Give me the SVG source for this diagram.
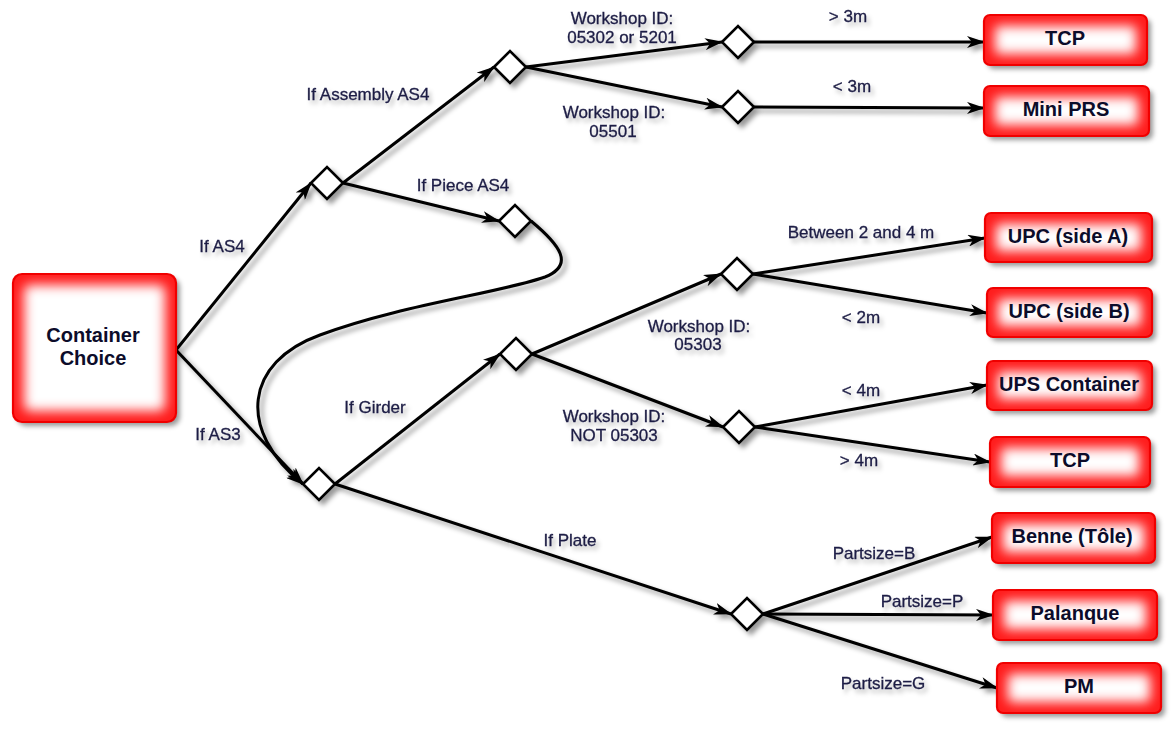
<svg xmlns="http://www.w3.org/2000/svg" width="1176" height="734" viewBox="0 0 1176 734">
<defs>
<style>
.box{fill:#ff1e1e;stroke:none}
.inner{fill:#ffffff;filter:url(#soft)}
.edge{fill:none;stroke:#f00000;stroke-width:2.2}
.nt{font-family:"Liberation Sans",Arial,sans-serif;font-weight:bold;font-size:20px;fill:#0c0c2a;text-anchor:middle}
.lb{font-family:"Liberation Sans",Arial,sans-serif;font-size:17px;fill:#1c1c44;stroke:#1c1c44;stroke-width:0.3;text-anchor:middle}
.dia{fill:#ffffff;stroke:#000;stroke-width:2.6}
.con{fill:none;stroke:#000;stroke-width:3;marker-end:url(#arr)}
</style>
<filter id="soft" x="-30%" y="-80%" width="160%" height="260%"><feGaussianBlur stdDeviation="6"/></filter>
<filter id="shd" x="-10%" y="-10%" width="130%" height="130%"><feDropShadow dx="4" dy="4" stdDeviation="2.5" flood-color="#000" flood-opacity="0.4"/></filter>
<filter id="tshd" x="-10%" y="-30%" width="130%" height="180%"><feDropShadow dx="3" dy="4" stdDeviation="2" flood-color="#000" flood-opacity="0.25"/></filter>
<marker id="arr" markerUnits="userSpaceOnUse" viewBox="0 0 18 12" markerWidth="18" markerHeight="12" refX="17" refY="6" orient="auto">
<path d="M0,0 L18,6 L0,12 L5,6 z" fill="#000"/>
</marker>
</defs>
<rect width="1176" height="734" fill="#ffffff"/>

<g id="connectors" filter="url(#shd)">
<path class="con" d="M176,350 L311,183"/>
<path class="con" d="M176,350 L303,484"/>
<path class="con" d="M343,183 L494,67"/>
<path class="con" d="M343,183 L499,221"/>
<path class="con" d="M531,221 C560,245 575,265 545,277 C500,293 400,305 320,335 C245,362 236,430 303,484"/>
<path class="con" d="M526,67 L722,42"/>
<path class="con" d="M526,67 L722,107"/>
<path class="con" d="M754,42 L984,42"/>
<path class="con" d="M754,107 L984,108"/>
<path class="con" d="M335,484 L500,354"/>
<path class="con" d="M335,484 L731,614"/>
<path class="con" d="M532,354 L721,274"/>
<path class="con" d="M532,354 L723,427"/>
<path class="con" d="M753,274 L985,238"/>
<path class="con" d="M753,274 L987,313"/>
<path class="con" d="M755,427 L987,385"/>
<path class="con" d="M755,427 L990,462"/>
<path class="con" d="M763,614 L992,537"/>
<path class="con" d="M763,614 L993,615"/>
<path class="con" d="M763,614 L997,688"/>
</g>

<g id="labels" filter="url(#tshd)">
<text class="lb" x="222" y="252">If AS4</text>
<text class="lb" x="218" y="440">If AS3</text>
<text class="lb" x="368" y="100">If Assembly AS4</text>
<text class="lb" x="463" y="191">If Piece AS4</text>
<text class="lb" x="622" y="24">Workshop ID:</text>
<text class="lb" x="622" y="43">05302 or 5201</text>
<text class="lb" x="614" y="118">Workshop ID:</text>
<text class="lb" x="613" y="137">05501</text>
<text class="lb" x="848" y="22">&gt; 3m</text>
<text class="lb" x="852" y="92">&lt; 3m</text>
<text class="lb" x="375" y="413">If Girder</text>
<text class="lb" x="570" y="546">If Plate</text>
<text class="lb" x="699" y="332">Workshop ID:</text>
<text class="lb" x="698" y="350">05303</text>
<text class="lb" x="614" y="422">Workshop ID:</text>
<text class="lb" x="614" y="441">NOT 05303</text>
<text class="lb" x="861" y="238">Between 2 and 4 m</text>
<text class="lb" x="861" y="323">&lt; 2m</text>
<text class="lb" x="861" y="396">&lt; 4m</text>
<text class="lb" x="859" y="466">&gt; 4m</text>
<text class="lb" x="874" y="559">Partsize=B</text>
<text class="lb" x="922" y="607">Partsize=P</text>
<text class="lb" x="883" y="689">Partsize=G</text>
</g>

<g id="decisions" filter="url(#shd)">
<polygon id="d1" class="dia" points="311,183 327,167 343,183 327,199"/>
<polygon id="d2" class="dia" points="494,67 510,51 526,67 510,83"/>
<polygon id="d3" class="dia" points="499,221 515,205 531,221 515,237"/>
<polygon id="d4" class="dia" points="303,484 319,468 335,484 319,500"/>
<polygon id="d5" class="dia" points="722,42 738,26 754,42 738,58"/>
<polygon id="d6" class="dia" points="722,107 738,91 754,107 738,123"/>
<polygon id="d7" class="dia" points="500,354 516,338 532,354 516,370"/>
<polygon id="d8" class="dia" points="721,274 737,258 753,274 737,290"/>
<polygon id="d9" class="dia" points="723,427 739,411 755,427 739,443"/>
<polygon id="d10" class="dia" points="731,614 747,598 763,614 747,630"/>
</g>

<g id="n-container">
<rect class="box" x="13" y="274" width="163" height="148" rx="9" filter="url(#shd)"/>
<rect class="inner" x="24" y="285" width="141" height="126" rx="6"/>
<rect class="edge" x="13" y="274" width="163" height="148" rx="9"/>
<text class="nt" x="93" y="342">Container</text>
<text class="nt" x="93" y="365">Choice</text>
</g>

<g id="n-tcp1">
<rect class="box" x="984" y="15" width="163" height="50" rx="6" filter="url(#shd)"/>
<rect class="inner" x="995" y="26" width="141" height="28" rx="4"/>
<rect class="edge" x="984" y="15" width="163" height="50" rx="6"/>
<text class="nt" x="1065" y="45">TCP</text>
</g>

<g id="n-miniprs">
<rect class="box" x="984" y="86" width="165" height="50" rx="6" filter="url(#shd)"/>
<rect class="inner" x="995" y="97" width="143" height="28" rx="4"/>
<rect class="edge" x="984" y="86" width="165" height="50" rx="6"/>
<text class="nt" x="1066" y="116">Mini PRS</text>
</g>

<g id="n-upca">
<rect class="box" x="985" y="213" width="167" height="49" rx="6" filter="url(#shd)"/>
<rect class="inner" x="996" y="224" width="145" height="27" rx="4"/>
<rect class="edge" x="985" y="213" width="167" height="49" rx="6"/>
<text class="nt" x="1068" y="243">UPC (side A)</text>
</g>

<g id="n-upcb">
<rect class="box" x="987" y="288" width="165" height="49" rx="6" filter="url(#shd)"/>
<rect class="inner" x="998" y="299" width="143" height="27" rx="4"/>
<rect class="edge" x="987" y="288" width="165" height="49" rx="6"/>
<text class="nt" x="1069" y="318">UPC (side B)</text>
</g>

<g id="n-ups">
<rect class="box" x="987" y="361" width="165" height="49" rx="6" filter="url(#shd)"/>
<rect class="inner" x="998" y="372" width="143" height="27" rx="4"/>
<rect class="edge" x="987" y="361" width="165" height="49" rx="6"/>
<text class="nt" x="1069" y="391">UPS Container</text>
</g>

<g id="n-tcp2">
<rect class="box" x="990" y="437" width="160" height="50" rx="6" filter="url(#shd)"/>
<rect class="inner" x="1001" y="448" width="138" height="28" rx="4"/>
<rect class="edge" x="990" y="437" width="160" height="50" rx="6"/>
<text class="nt" x="1070" y="467">TCP</text>
</g>

<g id="n-benne">
<rect class="box" x="992" y="513" width="163" height="50" rx="6" filter="url(#shd)"/>
<rect class="inner" x="1003" y="524" width="141" height="28" rx="4"/>
<rect class="edge" x="992" y="513" width="163" height="50" rx="6"/>
<text class="nt" x="1072" y="543">Benne (Tôle)</text>
</g>

<g id="n-palanque">
<rect class="box" x="993" y="590" width="164" height="50" rx="6" filter="url(#shd)"/>
<rect class="inner" x="1004" y="601" width="142" height="28" rx="4"/>
<rect class="edge" x="993" y="590" width="164" height="50" rx="6"/>
<text class="nt" x="1075" y="620">Palanque</text>
</g>

<g id="n-pm">
<rect class="box" x="997" y="663" width="164" height="50" rx="6" filter="url(#shd)"/>
<rect class="inner" x="1008" y="674" width="142" height="28" rx="4"/>
<rect class="edge" x="997" y="663" width="164" height="50" rx="6"/>
<text class="nt" x="1079" y="693">PM</text>
</g>
</svg>
